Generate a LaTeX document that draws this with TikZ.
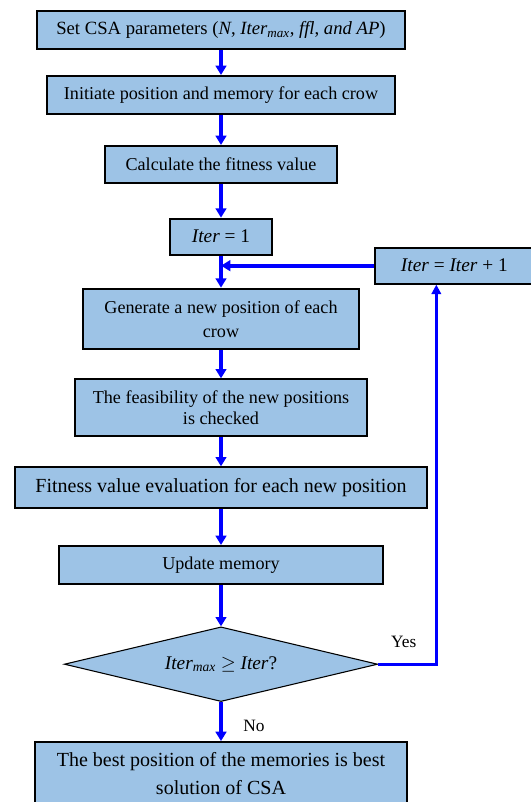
\documentclass[tikz,border=0pt]{standalone}
\usepackage{fontspec}
\setmainfont{Liberation Serif}
\usepackage{tikz}
\usetikzlibrary{positioning,shapes.geometric,arrows.meta}
\definecolor{boxfill}{HTML}{9DC3E6}
\definecolor{flowblue}{HTML}{0000FF}

\begin{document}
\begin{tikzpicture}[
    x=0.75pt, y=-0.75pt,
    every node/.style={align=center},
    process/.style={rectangle, draw=black, line width=1.5pt, fill=boxfill, inner sep=2pt, font=\fontsize{13.6}{17}\selectfont},
    decision/.style={diamond, draw=black, line width=0.8pt, fill=boxfill, aspect=4, inner sep=0pt, minimum width=235pt, minimum height=56pt, font=\fontsize{14.5}{17}\selectfont},
    arrow/.style={-{Triangle[length=7pt,width=8pt]}, line width=3pt, color=flowblue},
    loopline/.style={-{Triangle[length=7pt,width=7pt]}, line width=2pt, color=flowblue},
    branch/.style={text=black, font=\fontsize{13}{15}\selectfont}
]
\useasboundingbox (0,0) rectangle (531,802);

% Start node
\node[process, minimum width=275.5pt, minimum height=28.5pt, font=\fontsize{14}{17}\selectfont] (params) at (221,30) {Set CSA parameters (\textit{N}, \textit{Iter\textsubscript{max}}, \textit{ffl}, \textit{and AP})};

% Initialisation
\node[process, below=18.75pt of params, minimum width=261pt, minimum height=28.5pt] (init) {Initiate position and memory for each crow};
\node[process, below=22.5pt of init, minimum width=174pt, minimum height=27.5pt] (fitness) {Calculate the fitness value};
\node[process, below=25.5pt of fitness, minimum width=76.5pt, minimum height=27pt, font=\fontsize{14.5}{17}\selectfont] (iterone) {\textit{Iter} = 1};

% Main loop
\node[process, below=24pt of iterone, minimum width=207pt, minimum height=45.5pt, font=\fontsize{13.6}{18}\selectfont] (generate) {Generate a new position of each\\crow};
\node[process, below=21pt of generate, minimum width=219pt, minimum height=42.5pt, font=\fontsize{13.6}{16}\selectfont] (feasible) {The feasibility of the new positions\\is checked};
\node[process, below=22pt of feasible, minimum width=308.5pt, minimum height=30.5pt, font=\fontsize{15}{17}\selectfont] (evaluate) {Fitness value evaluation for each new position};
\node[process, below=27pt of evaluate, minimum width=243.5pt, minimum height=28.5pt] (update) {Update memory};
\node[decision, below=31pt of update] (check) {\textit{Iter\textsubscript{max}} $\geq$ \textit{Iter}?};

% Counter and result
\node[process, right=75.75pt of iterone, yshift=-21.75pt, minimum width=119pt, minimum height=27pt, font=\fontsize{14.5}{17}\selectfont] (iterinc) {\textit{Iter} = \textit{Iter} + 1};
\node[process, below=29.25pt of check, minimum width=278.5pt, minimum height=46.5pt, font=\fontsize{15}{21}\selectfont] (best) {The best position of the memories is best\\solution of CSA};

\coordinate (merge) at (iterone.south |- iterinc.west);
\coordinate (back) at ([xshift=-13.5pt]iterinc.south);

% Arrows
\draw[arrow] (params) -- (init);
\draw[arrow] (init) -- (fitness);
\draw[arrow] (fitness) -- (iterone);
\draw[arrow] (iterone) -- (generate);
\draw[arrow] (iterinc) -- (merge);
\draw[arrow] (generate) -- (feasible);
\draw[arrow] (feasible) -- (evaluate);
\draw[arrow] (evaluate) -- (update);
\draw[arrow] (update) -- (check);
\draw[loopline] (check.east) -| node[pos=0.22, above=8pt, branch] {Yes} (back);
\draw[arrow] (check) -- (best) node[midway, right=12pt, yshift=-3pt, branch] {No};

\end{tikzpicture}
\end{document}
